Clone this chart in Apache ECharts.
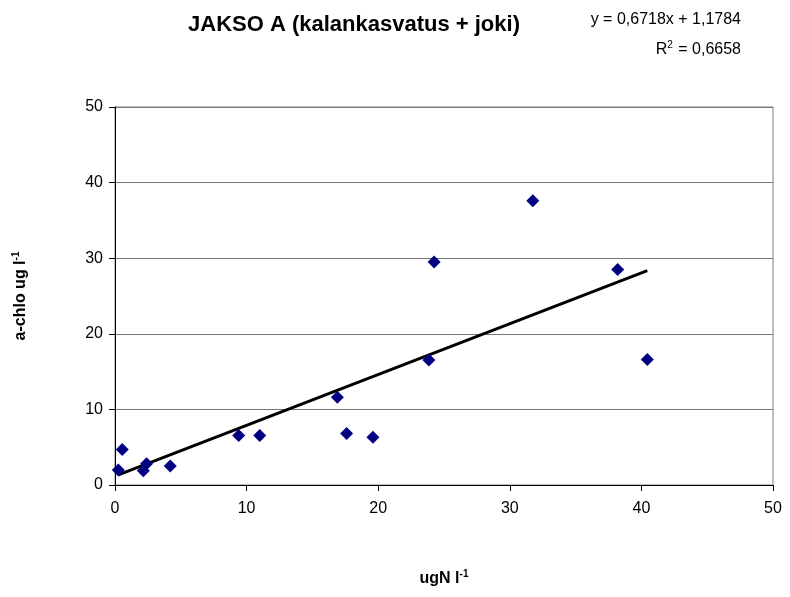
<!DOCTYPE html>
<html>
<head>
<meta charset="utf-8">
<script src="https://cdn.jsdelivr.net/npm/echarts@6/dist/echarts.min.js"></script>
<style>
  html, body { margin: 0; padding: 0; background: #fff; }
  #chart { width: 790px; height: 597px; }
</style>
</head>
<body>
<div id="chart"></div>
<script>
// Nitrogen (ugN/l) vs chlorophyll-a (ug/l), period A
const nitrogen = [0.25, 0.55, 2.15, 2.4, 4.2, 9.4, 11.0, 16.9, 17.6, 19.6, 23.85, 24.25, 31.75, 38.2, 40.45];
const chlorophyll = [2.0, 4.7, 1.9, 2.8, 2.5, 6.55, 6.55, 11.6, 6.8, 6.3, 16.55, 29.5, 37.6, 28.5, 16.6];
const slope = 0.6718;
const intercept = 1.1784;
const rSquared = '0,6658';
const axisTicks = [0, 10, 20, 30, 40, 50];

const points = nitrogen.map((x, i) => [x, chlorophyll[i]]);
const xMin = Math.min(...nitrogen);
const xMax = Math.max(...nitrogen);
const trend = [[xMin, slope * xMin + intercept], [xMax, slope * xMax + intercept]];

const fmt = v => v.toFixed(4).replace('.', ',');
const font = '"Liberation Sans", Arial, sans-serif';

const chart = echarts.init(document.getElementById('chart'), null, { renderer: 'canvas' });
chart.setOption({
  animation: false,
  backgroundColor: '#ffffff',
  textStyle: { fontFamily: font },
  title: {
    text: 'JAKSO A (kalankasvatus + joki)',
    left: 349, top: 9, textAlign: 'center',
    textStyle: { fontFamily: font, fontSize: 22, fontWeight: 'bold', color: '#000' }
  },
  graphic: [
    {
      type: 'text', right: 49, top: 12,
      style: {
        text: 'y = ' + fmt(slope) + 'x + ' + fmt(intercept),
        font: '16px ' + font, fill: '#000'
      }
    },
    {
      type: 'text', right: 49, top: 40,
      style: {
        text: '{b|R}{s|2}{b| = ' + rSquared + '}',
        rich: {
          b: { fontFamily: font, fontSize: 16, color: '#000', verticalAlign: 'bottom' },
          s: { fontFamily: font, fontSize: 10, color: '#000', verticalAlign: 'top', padding: [0, 1, 8, 0] }
        }
      }
    }
  ],
  grid: { left: 115, right: 17, top: 107, bottom: 112, show: true, borderColor: '#808080', borderWidth: 1 },
  xAxis: {
    type: 'value', min: axisTicks[0], max: axisTicks[axisTicks.length - 1], interval: 10,
    name: '{b|ugN l}{s|-1}', nameLocation: 'middle', nameGap: 84,
    nameTextStyle: {
      rich: {
        b: { fontFamily: font, fontSize: 16, fontWeight: 'bold', color: '#000', verticalAlign: 'bottom' },
        s: { fontFamily: font, fontSize: 10, fontWeight: 'bold', color: '#000', verticalAlign: 'top', padding: [0, 0, 8, 0] }
      }
    },
    axisLine: { onZero: false, lineStyle: { color: '#000', width: 1 } },
    axisTick: { show: true, length: 6, inside: false, lineStyle: { color: '#000' } },
    axisLabel: { fontSize: 16, color: '#000', margin: 16, fontFamily: font },
    splitLine: { show: false }
  },
  yAxis: {
    type: 'value', min: axisTicks[0], max: axisTicks[axisTicks.length - 1], interval: 10,
    name: '{b|a-chlo ug l}{s|-1}', nameLocation: 'middle', nameGap: 86, nameRotate: 90,
    nameTextStyle: {
      rich: {
        b: { fontFamily: font, fontSize: 16, fontWeight: 'bold', color: '#000', verticalAlign: 'bottom' },
        s: { fontFamily: font, fontSize: 10, fontWeight: 'bold', color: '#000', verticalAlign: 'top', padding: [0, 0, 8, 0] }
      }
    },
    axisLine: { show: true, onZero: false, lineStyle: { color: '#000', width: 1 } },
    axisTick: { show: true, length: 6, inside: false, lineStyle: { color: '#000' } },
    axisLabel: { fontSize: 16, color: '#000', margin: 12, fontFamily: font },
    splitLine: { show: true, lineStyle: { color: '#777777', width: 1 } }
  },
  series: [
    {
      type: 'scatter', data: points, symbol: 'diamond', symbolSize: 13,
      itemStyle: { color: '#000080', opacity: 1 }, z: 3
    },
    {
      type: 'line', data: trend, symbol: 'none', z: 2,
      lineStyle: { color: '#000', width: 3 }
    }
  ]
});
</script>
</body>
</html>
